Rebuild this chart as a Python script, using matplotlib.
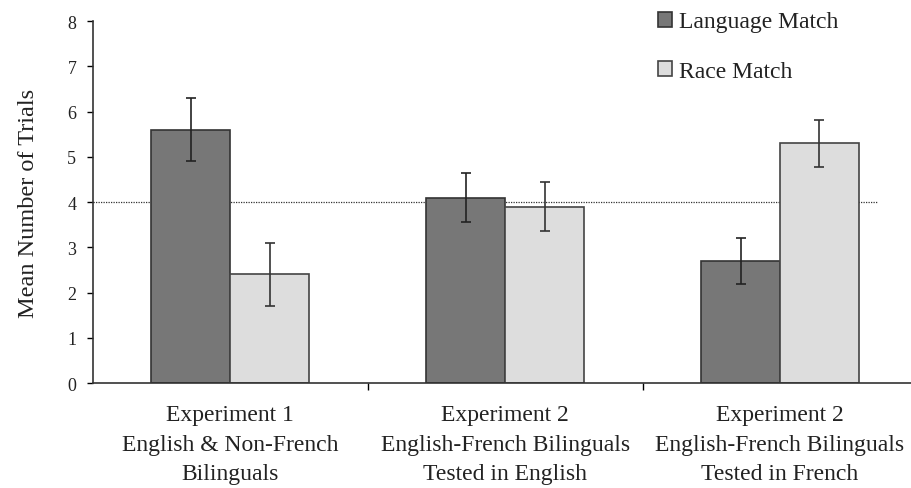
import matplotlib.pyplot as plt
import numpy as np

# data
groups = ["Experiment 1\nEnglish & Non-French\nBilinguals",
          "Experiment 2\nEnglish-French Bilinguals\nTested in English",
          "Experiment 2\nEnglish-French Bilinguals\nTested in French"]
language_match = [5.6, 4.1, 2.7]
language_err = [0.7, 0.55, 0.5]
race_match = [2.4, 3.9, 5.3]
race_err = [0.7, 0.55, 0.52]
chance = 4

plt.rcParams['font.family'] = ['Liberation Serif', 'DejaVu Serif']

fig = plt.figure(figsize=(9.11, 4.89), dpi=100)
ax = fig.add_axes([0.102, 0.2147, 0.905, 0.740])

x = np.arange(len(groups))
w = 0.287
ax.bar(x - w / 2, language_match, w, color='#777777', edgecolor='#333333', linewidth=1.2,
       label='Language Match', zorder=2)
ax.bar(x + w / 2, race_match, w, color='#dddddd', edgecolor='#444444', linewidth=1.2,
       label='Race Match', zorder=2)
ax.errorbar(x - w / 2, language_match, yerr=language_err, fmt='none', ecolor='#222222',
            elinewidth=1.2, capsize=3.5, capthick=1.2, zorder=3)
ax.errorbar(x + w / 2, race_match, yerr=race_err, fmt='none', ecolor='#333333',
            elinewidth=1.2, capsize=3.5, capthick=1.2, zorder=3)

# chance level line
ax.plot([-0.5, 2.355], [chance, chance], color='#333333', linestyle=(0, (1, 1)),
        linewidth=0.9, zorder=1)

ax.set_xlim(-0.5, 2.5)
ax.set_ylim(0, 8)
ax.set_yticks(range(0, 9))
ax.tick_params(axis='y', labelsize=13, length=4, width=1, direction='out', pad=8,
               labelcolor='#222222')
ax.set_xticks([0.5, 1.5], minor=False)
ax.set_xticklabels([])
ax.set_xticks(x, minor=True)
ax.set_xticklabels(groups, minor=True, fontsize=17, linespacing=1.55, color='#222222')
ax.tick_params(axis='x', which='major', length=5, width=1, direction='out')
ax.tick_params(axis='x', which='minor', length=0, pad=15)
for s in ['top', 'right']:
    ax.spines[s].set_visible(False)
for s in ['left', 'bottom']:
    ax.spines[s].set_color('#333333')
    ax.spines[s].set_linewidth(1.2)
ax.set_ylabel('Mean Number of Trials', fontsize=17.5, color='#222222', labelpad=20)

ax.legend(loc='upper left', bbox_to_anchor=(0.699, 1.018), bbox_transform=fig.transFigure,
          frameon=False, fontsize=17, handlelength=0.6, handleheight=0.6,
          handletextpad=0.3, labelspacing=1.2, labelcolor='#222222')

fig.savefig('out.png', dpi=100)
